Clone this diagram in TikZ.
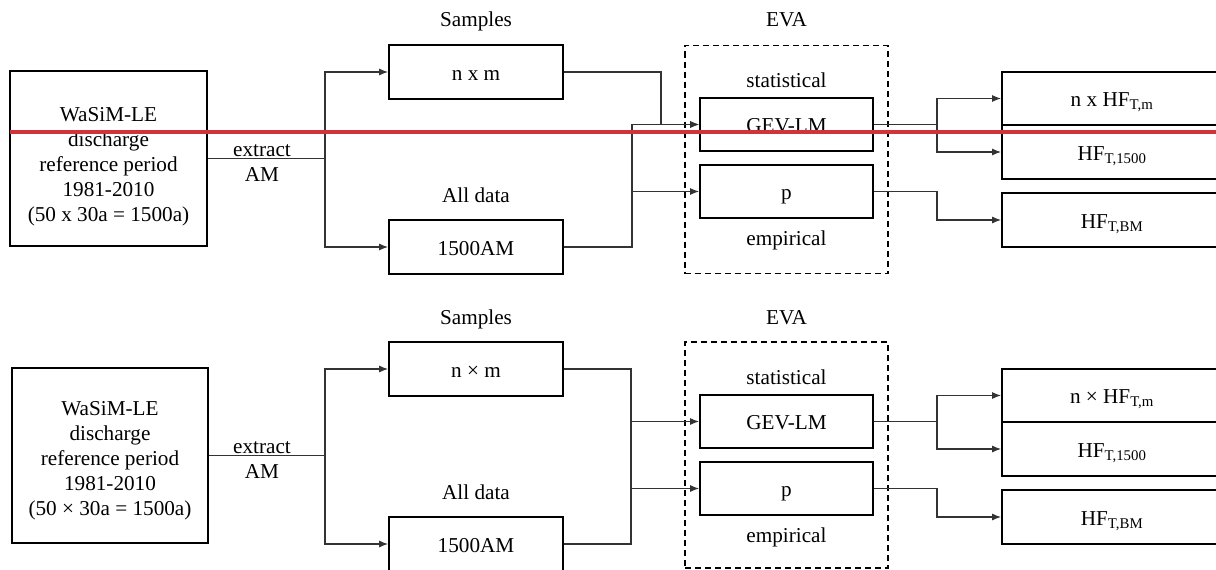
\documentclass[tikz,border=0pt]{standalone}
\usepackage{fontspec}
\setmainfont{Liberation Serif}
\usetikzlibrary{arrows.meta}
\definecolor{markred}{RGB}{208,52,58}

\begin{document}
\begin{tikzpicture}[x=1pt, y=-1pt,
  font=\fontsize{21.2}{25}\selectfont,
  >={Latex[length=9pt,width=7pt]},
  block/.style={shape=rectangle, draw, line width=1.8pt, inner sep=0pt, minimum width=174pt, minimum height=54pt, text height=16pt, text depth=0pt},
  outbox/.style={block, minimum width=220pt},
  evaframe/.style={shape=rectangle, draw, dash pattern=on 6pt off 4pt, line width=1.4pt, inner sep=0pt, minimum width=203pt, minimum height=228pt},
  tag/.style={inner sep=0pt, anchor=base},
  flow/.style={draw=black!80, line width=1.1pt},
  redmark/.style={draw=markred, line width=4.5pt}]

\useasboundingbox (0,0) rectangle (1216,570);

% upper chart
\node[block, minimum width=197pt, minimum height=175pt, label={[align=center, yshift=-8pt]center:WaSiM-LE\\discharge\\reference period\\1981-2010\\(50 x 30a = 1500a)}] (tsrc) at (108.5,158.5) {};
\node[inner sep=0pt, align=center] (textract) at (262,163) {extract\\AM};
\node[tag] (tsamples) at (476,27) {Samples};
\node[block] (tnxm) at (476,72) {n x m};
\node[tag] (talldata) at (476,202) {All data};
\node[block] (tall) at (476,247) {1500AM};
\node[tag] (tevalbl) at (786.5,27) {EVA};
\node[evaframe] (teva) at (786.5,159.5) {};
\node[tag] (tstat) at (786.5,87) {statistical};
\node[block, minimum width=173pt, minimum height=53pt] (tgev) at (786.5,124.5) {GEV-LM};
\node[block, minimum width=173pt, minimum height=53pt] (tp) at (786.5,191.5) {p};
\node[tag] (temp) at (786.5,245) {empirical};
\node[outbox, minimum height=53pt] (thfm) at (1112,98.5) {n x HF\textsubscript{T,m}};
\node[outbox] (thfa) at (1112,152) {HF\textsubscript{T,1500}};
\node[outbox] (thfbm) at (1112,220) {HF\textsubscript{T,BM}};

\coordinate (tsplit) at (325,158.5);
\coordinate (tjoin) at (661,124.5);
\coordinate (tfork) at (632,124.5);
\coordinate (tforkp) at (632,191.5);
\coordinate (tout) at (937,124.5);
\coordinate (toutp) at (937,191.5);

\draw[flow] (tsrc) -- (tsplit);
\draw[flow,->] (tsplit) |- (tnxm);
\draw[flow,->] (tsplit) |- (tall);
\draw[flow,->] (tnxm) -| (tjoin) -- (tgev);
\draw[flow,->] (tall) -| (tfork) -- (tgev);
\draw[flow,->] (tforkp) -- (tp);
\draw[flow] (tgev) -- (tout);
\draw[flow,->] (tout) |- (thfm);
\draw[flow,->] (tout) |- (thfa);
\draw[flow,->] (tp) -- (toutp) |- (thfbm);

% lower chart
\node[block, minimum width=196pt, minimum height=175pt, label={[align=center, yshift=-5pt]center:WaSiM-LE\\discharge\\reference period\\1981-2010\\(50 × 30a = 1500a)}] (bsrc) at (110,455.5) {};
\node[inner sep=0pt, align=center] (bextract) at (262,460) {extract\\AM};
\node[tag] (bsamples) at (476,324) {Samples};
\node[block] (bnxm) at (476,369) {n × m};
\node[tag] (balldata) at (476,499) {All data};
\node[block] (ball) at (476,544) {1500AM};
\node[tag] (bevalbl) at (786.5,324) {EVA};
\node[evaframe, minimum height=226pt] (beva) at (786.5,455) {};
\node[tag] (bstat) at (786.5,384) {statistical};
\node[block, minimum width=173pt, minimum height=53pt] (bgev) at (786.5,421.5) {GEV-LM};
\node[block, minimum width=173pt, minimum height=53pt] (bp) at (786.5,488.5) {p};
\node[tag] (bemp) at (786.5,542) {empirical};
\node[outbox, minimum height=53pt] (bhfm) at (1112,395.5) {n × HF\textsubscript{T,m}};
\node[outbox] (bhfa) at (1112,449) {HF\textsubscript{T,1500}};
\node[outbox] (bhfbm) at (1112,517) {HF\textsubscript{T,BM}};

\coordinate (bsplit) at (325,455.5);
\coordinate (bfork) at (631,421.5);
\coordinate (bforkp) at (631,488.5);
\coordinate (bout) at (937,421.5);
\coordinate (boutp) at (937,488.5);

\draw[flow] (bsrc) -- (bsplit);
\draw[flow,->] (bsplit) |- (bnxm);
\draw[flow,->] (bsplit) |- (ball);
\draw[flow] (bnxm) -| (bfork) |- (ball);
\draw[flow,->] (bfork) -- (bgev);
\draw[flow,->] (bforkp) -- (bp);
\draw[flow] (bgev) -- (bout);
\draw[flow,->] (bout) |- (bhfm);
\draw[flow,->] (bout) |- (bhfa);
\draw[flow,->] (bp) -- (boutp) |- (bhfbm);

% red mark across the upper chart
\coordinate (redL) at (10,132);
\coordinate (redR) at (1216,132);
\draw[redmark] (redL) -- (redR);
\end{tikzpicture}
\end{document}
